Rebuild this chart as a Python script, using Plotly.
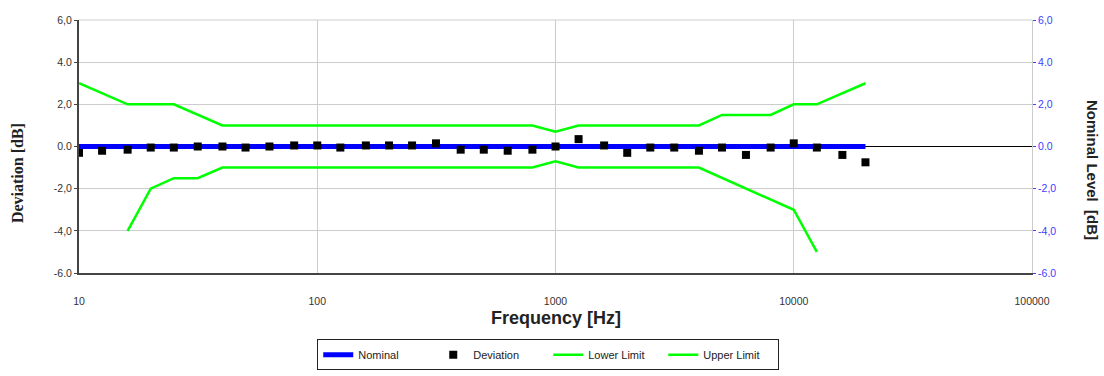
import plotly.graph_objects as go

freq = [10, 12.5, 16, 20, 25, 31.5, 40, 50, 63, 80, 100, 125, 160, 200, 250, 315, 400,
        500, 630, 800, 1000, 1250, 1600, 2000, 2500, 3150, 4000, 5000, 6300, 8000,
        10000, 12500, 16000, 20000]
deviation = [-0.3, -0.2, -0.15, -0.05, -0.05, 0.0, 0.0, -0.05, 0.0, 0.05, 0.05, -0.05, 0.05,
             0.05, 0.05, 0.15, -0.15, -0.15, -0.2, -0.15, 0.0, 0.35, 0.05, -0.3, -0.05,
             -0.05, -0.2, -0.05, -0.4, -0.05, 0.15, -0.05, -0.4, -0.75]
nominal_f = [10, 20000]
nominal = [0.0, 0.0]

upper_f = [10, 16, 25, 40, 800, 1000, 1250, 4000, 5000, 8000, 10000, 12500, 20000]
upper = [3.0, 2.0, 2.0, 1.0, 1.0, 0.7, 1.0, 1.0, 1.5, 1.5, 2.0, 2.0, 3.0]
lower_f = [16, 20, 25, 31.5, 40, 800, 1000, 1250, 4000, 10000, 12500]
lower = [-4.0, -2.0, -1.5, -1.5, -1.0, -1.0, -0.7, -1.0, -1.0, -3.0, -5.0]

y_ticks = [6, 4, 2, 0, -2, -4, -6]
y_ticktext = ["6,0", "4.0", "2,0", "0.0", "-2,0", "-4,0", "-6.0"]
x_ticks = [10, 100, 1000, 10000, 100000]
x_ticktext = ["10", "100", "1000", "10000", "100000"]

fig = go.Figure()
fig.add_trace(go.Scatter(x=nominal_f, y=nominal, mode="lines", name="Nominal",
                         line=dict(color="#0000ff", width=5), yaxis="y2"))
fig.add_trace(go.Scatter(x=freq, y=deviation, mode="markers", name="Deviation",
                         marker=dict(symbol="square", color="#000000", size=8), yaxis="y2"))
fig.add_trace(go.Scatter(x=lower_f, y=lower, mode="lines", name="Lower Limit",
                         line=dict(color="#00ff00", width=2.5)))
fig.add_trace(go.Scatter(x=upper_f, y=upper, mode="lines", name="Upper Limit",
                         line=dict(color="#00ff00", width=2.5)))

axis_font = dict(family="Liberation Sans, Arial", size=10.5, color="#333333")

fig.update_layout(
    width=1104, height=376,
    margin=dict(l=79, r=72, t=20, b=103, autoexpand=False),
    paper_bgcolor="white", plot_bgcolor="white",
    showlegend=True,
    legend=dict(orientation="h", x=0.25, y=-0.262, xanchor="left", yanchor="top",
                bordercolor="#222222", borderwidth=1,
                font=dict(family="Liberation Sans, Arial", size=11, color="#222222"),
                traceorder="normal", entrywidth=70),
    xaxis=dict(type="log", range=[1, 5], tickvals=x_ticks, ticktext=x_ticktext,
               showgrid=True, gridcolor="#cccccc", gridwidth=1,
               showline=True, linecolor="#444444", linewidth=2,
               ticks="", ticklabelstandoff=17, tickfont=axis_font, zeroline=False),
    yaxis=dict(range=[-6, 6], tickvals=y_ticks, ticktext=y_ticktext,
               showgrid=True, gridcolor="#cccccc", gridwidth=1,
               showline=True, linecolor="#444444", linewidth=2,
               ticks="outside", ticklen=3, tickcolor="#444444",
               zeroline=True, zerolinecolor="#000000", zerolinewidth=1,
               tickfont=axis_font),
    yaxis2=dict(range=[-6, 6], overlaying="y", side="right", tickvals=y_ticks,
                ticktext=y_ticktext, showgrid=False, zeroline=False,
                showline=True, linecolor="#cccccc", linewidth=1,
                ticks="outside", ticklen=3, tickcolor="#4040ff",
                tickfont=dict(family="Liberation Sans, Arial", size=10.5, color="#4040ff")),
    shapes=[dict(type="line", xref="paper", yref="paper", x0=0, x1=1, y0=1, y1=1,
                 line=dict(color="#cccccc", width=1))],
    annotations=[
        dict(text="<b>Frequency [Hz]</b>", xref="paper", yref="paper", x=0.5, y=-0.178,
             xanchor="center", yanchor="middle", showarrow=False,
             font=dict(family="Liberation Sans, Arial", size=18, color="#222222")),
        dict(text="<b>Deviation [dB]</b>", xref="paper", yref="paper", x=-0.065, y=0.395,
             xanchor="center", yanchor="middle", showarrow=False, textangle=-90,
             font=dict(family="Liberation Serif, Times New Roman", size=16, color="#222222")),
        dict(text="<b>Nominal Level  [dB]</b>", xref="paper", yref="paper", x=1.064, y=0.407,
             xanchor="center", yanchor="middle", showarrow=False, textangle=90,
             font=dict(family="Liberation Sans, Arial", size=15, color="#222222")),
    ],
)

fig.write_html("out.html")
